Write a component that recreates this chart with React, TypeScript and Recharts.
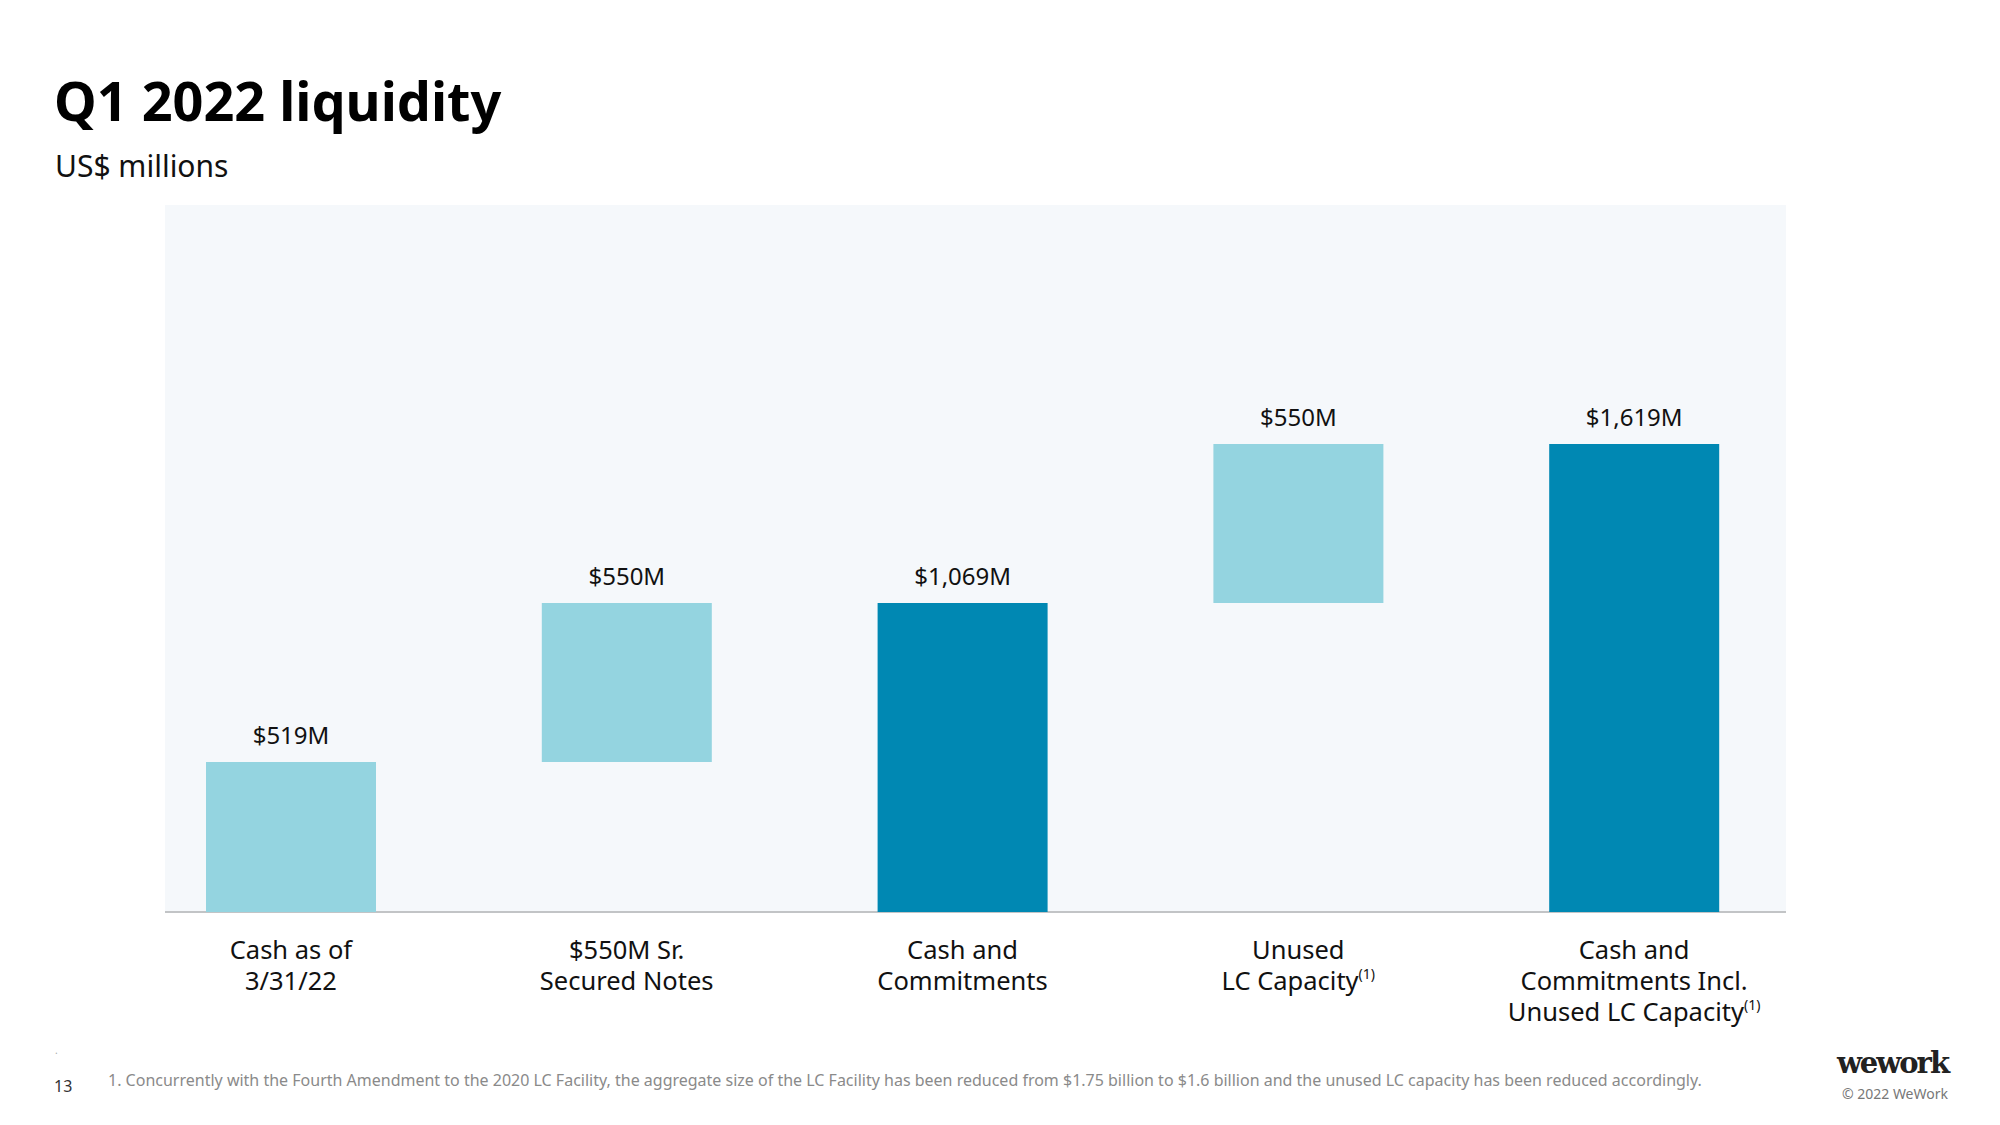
import React from 'react';
import { BarChart, Bar, XAxis, YAxis, Cell, LabelList } from 'recharts';

const categories = [
  'Cash as of\n3/31/22',
  '$550M Sr.\nSecured Notes',
  'Cash and\nCommitments',
  'Unused\nLC Capacity',
  'Cash and\nCommitments Incl.\nUnused LC Capacity',
];
const footnoteMark = [false, false, false, true, true];
const baseValues = [0, 519, 0, 1069, 0];
const barValues = [519, 550, 1069, 550, 1619];
const valueLabels = ['$519M', '$550M', '$1,069M', '$550M', '$1,619M'];
const isTotal = [false, false, true, false, true];

const LIGHT = '#94d4e0';
const DARK = '#0088b3';
const FONT = '"Noto Sans", sans-serif';

const data = categories.map((name, i) => ({
  name,
  base: baseValues[i],
  value: barValues[i],
  label: valueLabels[i],
}));

const CategoryTick = (props: any) => {
  const { x, y, payload, index } = props;
  const lines: string[] = String(payload.value).split('\n');
  return (
    <g transform={`translate(${x},${y})`}>
      {lines.map((line, i) => (
        <text
          key={i}
          x={0}
          y={39 + i * 31}
          textAnchor="middle"
          fontFamily={FONT}
          fontSize={25.5}
          fill="#111"
        >
          {line}
          {footnoteMark[index] && i === lines.length - 1 ? (
            <tspan fontSize={14} dy={-11}>(1)</tspan>
          ) : null}
        </text>
      ))}
    </g>
  );
};

export default function App() {
  return (
    <div style={{ position: 'absolute', left: 0, top: 0, width: 2000, height: 1125, background: '#fff', fontFamily: FONT }}>
      {/* plot background + baseline */}
      <div
        style={{
          position: 'absolute',
          left: 165,
          top: 205,
          width: 1621,
          height: 706,
          background: '#f5f8fb',
          borderBottom: '2px solid #c2c4c6',
        }}
      />
      <div style={{ position: 'absolute', left: 0, top: 0 }}>
        <BarChart
          width={2000}
          height={1125}
          data={data}
          margin={{ top: 205, right: 198, bottom: 153, left: 123 }}
          barSize={170}
        >
          <XAxis
            dataKey="name"
            axisLine={false}
            tickLine={false}
            interval={0}
            height={60}
            tick={<CategoryTick />}
          />
          <YAxis hide domain={[0, 2446]} />
          <Bar dataKey="base" stackId="a" fill="transparent" isAnimationActive={false} />
          <Bar dataKey="value" stackId="a" isAnimationActive={false}>
            {data.map((_, i) => (
              <Cell key={`c-${i}`} fill={isTotal[i] ? DARK : LIGHT} />
            ))}
            <LabelList
              dataKey="label"
              position="top"
              offset={18}
              fontFamily={FONT}
              fontSize={24}
              fill="#111"
            />
          </Bar>
        </BarChart>
      </div>
      <svg width={2000} height={1125} style={{ position: 'absolute', left: 0, top: 0, pointerEvents: 'none' }}>
        <text x={54} y={121} fontFamily={FONT} fontWeight={700} fontSize={54} fill="#000">
          Q1 2022 liquidity
        </text>
        <text x={55} y={177} fontFamily={FONT} fontSize={30} fill="#111">
          US$ millions
        </text>
        <text x={55} y={1054} fontFamily={FONT} fontSize={10} fill="#aaa">.</text>
        <text x={54} y={1092} fontFamily={FONT} fontSize={16} fill="#333">13</text>
        <text x={108} y={1086} fontFamily={FONT} fontSize={16} fill="#8a8a8a">
          1. Concurrently with the Fourth Amendment to the 2020 LC Facility, the aggregate size of the LC Facility has been reduced from $1.75 billion to $1.6 billion and the unused LC capacity has been reduced accordingly.
        </text>
        <text x={1948} y={1073} textAnchor="end" fontFamily='"DejaVu Serif", serif' fontWeight={700} fontSize={29} letterSpacing={-2} fill="#222">
          wework
        </text>
        <text x={1948} y={1099} textAnchor="end" fontFamily={FONT} fontSize={14} fill="#777">
          © 2022 WeWork
        </text>
      </svg>
    </div>
  );
}
